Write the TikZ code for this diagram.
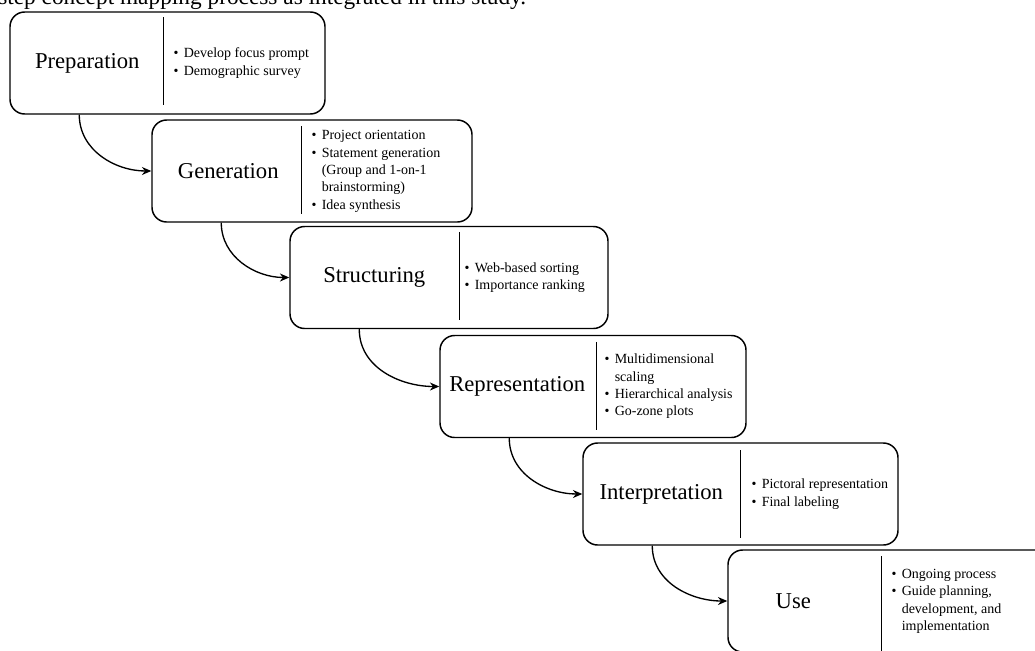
\documentclass[tikz,border=0pt]{standalone}
\usepackage{fontspec}
\setmainfont{Liberation Serif}
\usetikzlibrary{arrows.meta}
\tikzset{
  stage/.style={draw, rounded corners=11pt, line width=1.1pt, minimum width=#1*0.75pt,
    minimum height=76.5pt, inner sep=0pt},
  stagename/.style={font=\fontsize{17}{20}\selectfont, inner sep=0pt},
  tasks/.style={anchor=west, inner sep=0pt, font=\fontsize{10.5}{13}\selectfont},
  divider/.style={line width=1.1pt},
  flow/.style={-{Stealth[length=7pt,width=6pt]}, line width=1pt},
  caption/.style={anchor=base west, inner sep=0pt, font=\fontsize{17.5}{21}\selectfont},
}
\newcommand{\tasklist}[1]{\begin{tabular}{@{}l@{\hspace{4pt}}l@{}}#1\end{tabular}}
\begin{document}
\begin{tikzpicture}[x=0.75pt,y=-0.75pt]
  \useasboundingbox (0,0) rectangle (1035,650);
  \clip (0,0) rectangle (1035,650);
  % cut-off caption line
  \node[caption] (cap) at (-2,4) {step concept mapping process as integrated in this study.};
  % stages
  \node[stage=315] (prep) at (167.5,63) {};
  \node[stage=320] (gen) at (312,171) {};
  \node[stage=318] (struct) at (449,277.5) {};
  \node[stage=306] (repr) at (593,386.5) {};
  \node[stage=315] (interp) at (740.5,494) {};
  \node[stage=330] (use) at (893,601) {};
  % dividers
  \draw[divider] (prep.north west) ++(154,6) coordinate (prept) -- ++(0,88) coordinate (prepb);
  \draw[divider] (gen.north west) ++(150,7) coordinate (gent) -- ++(0,88) coordinate (genb);
  \draw[divider] (struct.north west) ++(170,6) coordinate (structt) -- ++(0,88) coordinate (structb);
  \draw[divider] (repr.north west) ++(157,7) coordinate (reprt) -- ++(0,88) coordinate (reprb);
  \draw[divider] (interp.north west) ++(158,8) coordinate (interpt) -- ++(0,88) coordinate (interpb);
  \draw[divider] (use.north west) ++(154,7) coordinate (uset) -- ++(0,95) coordinate (useb);
  % names
  \path (prep.west) ++(78,0) node[stagename] (prepname) {Preparation};
  \path (gen.west) ++(77,0) node[stagename] (genname) {Generation};
  \path (struct.west) ++(85,0) node[stagename] (structname) {Structuring};
  \path (repr.west) ++(78,0) node[stagename] (reprname) {Representation};
  \path (interp.west) ++(79,0) node[stagename] (interpname) {Interpretation};
  \path (use.west) ++(66,0) node[stagename] (usename) {Use};
  % activities
  \path (prep.west) ++(164,0) node[tasks] (preplist) {\tasklist{
    \textbullet & Develop focus prompt\\
    \textbullet & Demographic survey}};
  \path (gen.west) ++(160,0) node[tasks] (genlist) {\tasklist{
    \textbullet & Project orientation\\
    \textbullet & Statement generation\\
     & (Group and 1-on-1\\
     & brainstorming)\\
    \textbullet & Idea synthesis}};
  \path (struct.west) ++(175,0) node[tasks] (structlist) {\tasklist{
    \textbullet & Web-based sorting\\
    \textbullet & Importance ranking}};
  \path (repr.west) ++(165,0) node[tasks] (reprlist) {\tasklist{
    \textbullet & Multidimensional\\
     & scaling\\
    \textbullet & Hierarchical analysis\\
    \textbullet & Go-zone plots}};
  \path (interp.west) ++(169,0) node[tasks] (interplist) {\tasklist{
    \textbullet & Pictoral representation\\
    \textbullet & Final labeling}};
  \path (use.west) ++(164,0) node[tasks] (uselist) {\tasklist{
    \textbullet & Ongoing process\\
    \textbullet & Guide planning,\\
     & development, and\\
     & implementation}};
  % flow between stages
  \draw[flow] (prep.south west) ++(70,0) to[out=-90,in=180] (gen.west);
  \draw[flow] (gen.south west) ++(70,0) to[out=-90,in=180] (struct.west);
  \draw[flow] (struct.south west) ++(70,0) to[out=-90,in=180] (repr.west);
  \draw[flow] (repr.south west) ++(70,0) to[out=-90,in=180] (interp.west);
  \draw[flow] (interp.south west) ++(70,0) to[out=-90,in=180] (use.west);
\end{tikzpicture}
\end{document}
